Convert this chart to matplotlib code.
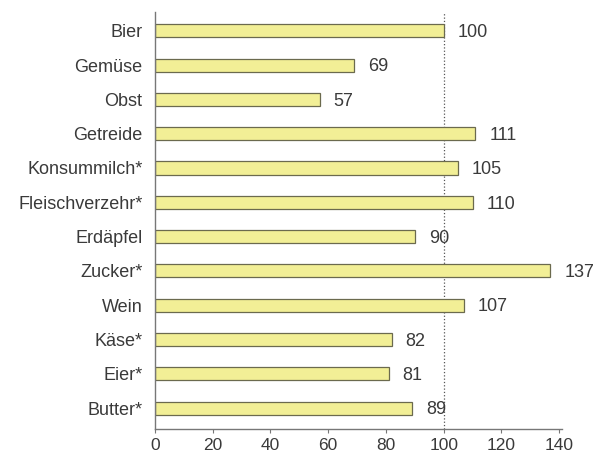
import matplotlib.pyplot as plt
import numpy as np

# Verbrauch in Prozent (Referenz: Bier = 100)
categories = ['Bier', 'Gemüse', 'Obst', 'Getreide', 'Konsummilch*', 'Fleischverzehr*',
              'Erdäpfel', 'Zucker*', 'Wein', 'Käse*', 'Eier*', 'Butter*']
values = [100, 69, 57, 111, 105, 110, 90, 137, 107, 82, 81, 89]

plt.rcParams['font.family'] = ['Liberation Sans', 'DejaVu Sans']

fig = plt.figure(figsize=(5.96, 4.58), dpi=100)
ax = fig.add_axes([0.26, 0.064, 0.683, 0.91])

y = np.arange(len(categories))
ax.barh(y, values, height=0.38, color='#f2ef96', edgecolor='#6b6a4e', linewidth=0.9, zorder=2)

for yi, v in zip(y, values):
    ax.text(v + 4.8, yi + 0.05, str(v), va='center', ha='left', fontsize=13, color='#3a3a3a')

ax.axvline(100, color='#555555', linestyle=':', linewidth=0.9, zorder=1)

ax.set_ylim(11.6, -0.55)
ax.set_xlim(0, 141)
ax.set_xticks(np.arange(0, 141, 20))
ax.set_yticks(y)
ax.set_yticklabels(categories)

for s in ['top', 'right']:
    ax.spines[s].set_visible(False)
for s in ['left', 'bottom']:
    ax.spines[s].set_color('#777777')
    ax.spines[s].set_linewidth(1.0)

ax.tick_params(axis='y', length=0, pad=9, labelsize=13, labelcolor='#3a3a3a')
ax.tick_params(axis='x', length=3, color='#777777', pad=4, labelsize=12.5, labelcolor='#3a3a3a')

plt.savefig('out.png', dpi=100)
plt.close()
